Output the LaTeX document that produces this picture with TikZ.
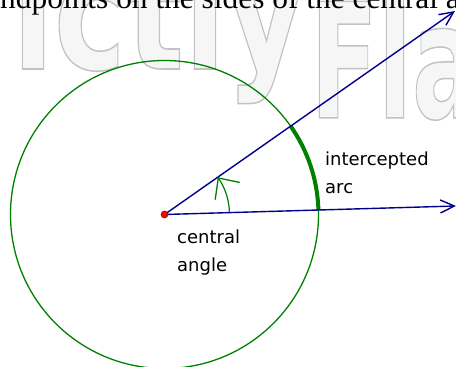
\documentclass[tikz,border=0pt]{standalone}
\usepackage{xcolor}
\usepackage{fontspec}
\setmainfont{Liberation Serif}
\newfontfamily\labelfont{DejaVu Sans}
\newfontfamily\markfont{DejaVu Sans}
\usetikzlibrary{arrows.meta}
\definecolor{RayBlue}{RGB}{0,0,140}
\definecolor{CircleGreen}{RGB}{0,128,0}
\definecolor{DotRed}{RGB}{240,10,10}
\definecolor{MarkFill}{RGB}{246,246,246}
\newcommand{\outlinetext}[1]{\special{pdf:literal direct 2 Tr 1.5 w 0.76 G}#1\special{pdf:literal direct 0 Tr}}

\begin{document}
\begin{tikzpicture}[x=1pt,y=1pt,
    ray/.style={draw=RayBlue,line width=1.4pt,
      -{Straight Barb[length=14pt,width=13pt,line width=1.4pt]}},
    rim/.style={draw=CircleGreen,line width=1.3pt},
    wmark/.style={anchor=base west,inner sep=0pt,text=MarkFill},
    lbl/.style={anchor=north west,inner sep=0pt,align=left,
      font=\labelfont\fontsize{18}{28}\selectfont}]
  \useasboundingbox (0,0) rectangle (456,367);
  \clip (0,0) rectangle (456,367);
  % faint watermark behind the figure
  \node[wmark] (markL) at (12,298)
    {\scalebox{0.76}[1]{\markfont\bfseries\fontsize{160}{160}\selectfont\outlinetext{ictly}}};
  \node[wmark] (markR) at (310,249)
    {\scalebox{0.62}[1]{\markfont\bfseries\fontsize{160}{160}\selectfont\outlinetext{Fla}}};
  % line of text cut by the top edge
  \node[anchor=base west,inner sep=0pt,font=\fontsize{31.4}{33}\selectfont] (head)
    at (-13.9,358.5) {endpoints on the sides of the central angle};

  \coordinate (O) at (164.5,152.5);
  \coordinate (A) at (455,356);
  \coordinate (B) at (456,161);

  \draw[rim] (O) circle[radius=154];
  \draw[CircleGreen,line width=4pt] ([shift={(1.67:154)}]O)
    arc[start angle=1.67,end angle=35.02,radius=154];
  \draw[CircleGreen,line width=1.2pt,
      -{Straight Barb[length=16pt,width=30pt,line width=1.3pt]}]
    ([shift={(1.67:65)}]O) arc[start angle=1.67,end angle=35.02,radius=65];

  \draw[ray] (O) -- (A);
  \draw[ray] (O) -- (B);
  \node[circle,fill=DotRed,draw=red!60!black,line width=0.6pt,
        inner sep=0pt,minimum size=7pt] (centre) at (O) {};

  \node[lbl] (arcname) at (325,215.7) {intercepted\\arc};
  \node[lbl] (anglename) at (177,137.7) {central\\angle};
\end{tikzpicture}
\end{document}
